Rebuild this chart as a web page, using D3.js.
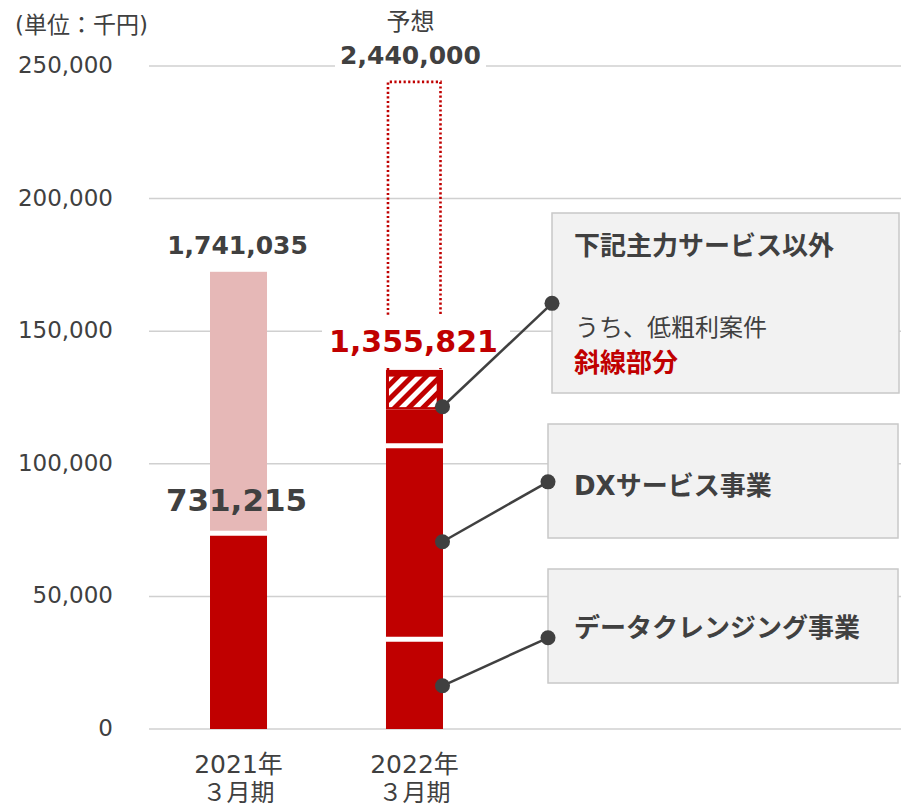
<!DOCTYPE html>
<html>
<head>
<meta charset="utf-8">
<script src="https://cdn.jsdelivr.net/npm/d3@7"></script>
<style>
  body { margin: 0; background: #fff; }
  svg { display: block; }
  text { font-family: "DejaVu Sans", "Noto Sans CJK JP", sans-serif; fill: #404040; }
</style>
</head>
<body>
<div id="chart"></div>
<script>
// values in 千円 as drawn on the axis
const periods = ["2021", "2022"];
const periodYear = ["2021年", "2022年"];
const periodMonth = ["３月期", "３月期"];
const segments2021 = [73800, 98600];               // 実績 / 薄色部分
const segments2022 = [33800, 73000, 13700, 14900]; // クレンジング / DX / 以外 / 低粗利
const forecast2022 = 244000;
const yTicks = [0, 50000, 100000, 150000, 200000, 250000];
const totalLabels = ["1,741,035", "1,355,821"];
const lowerLabel2021 = "731,215";
const forecastLabel = "2,440,000";
const calloutTitles = ["下記主力サービス以外", "DXサービス事業", "データクレンジング事業"];
const calloutBarValues = [121500, 70600, 16300];
const calloutBoxValues = [160500, 93200, 34400];

const RED = "#c00000", PINK = "#e6b8b7", INK = "#404040";
const W = 901, H = 807;

const svg = d3.select("#chart").append("svg").attr("width", W).attr("height", H);
const defs = svg.append("defs");
const pat = defs.append("pattern").attr("id", "hatch")
  .attr("patternUnits", "userSpaceOnUse").attr("width", 10).attr("height", 10)
  .attr("patternTransform", "rotate(45)");
pat.append("rect").attr("width", 10).attr("height", 10).attr("fill", RED);
pat.append("rect").attr("width", 5).attr("height", 10).attr("fill", "#fff");

const x = d3.scaleBand().domain(periods).range([150, 503])
  .paddingInner(0.676).paddingOuter(0.341);
const y = d3.scaleLinear().domain([0, 250000]).range([729, 66]);
const bw = x.bandwidth();

// grid + y labels
svg.append("g").selectAll("line").data(yTicks).join("line")
  .attr("x1", 149).attr("x2", W)
  .attr("y1", d => y(d)).attr("y2", d => y(d))
  .attr("stroke", "#d0d0d0").attr("stroke-width", 1.5);
svg.append("g").selectAll("text").data(yTicks).join("text")
  .attr("x", 113).attr("y", d => y(d) - 1)
  .attr("text-anchor", "end").attr("dominant-baseline", "central")
  .attr("font-size", 23).text(d3.format(","));
svg.append("text").attr("x", 15).attr("y", 25).attr("dominant-baseline", "central")
  .attr("font-size", 23).text("(単位：千円)");

// 2021 bar
const cum21 = [0, ...d3.cumsum(segments2021)];
const x21 = x("2021");
svg.append("g").selectAll("rect").data(segments2021).join("rect")
  .attr("x", x21).attr("width", bw)
  .attr("y", (d, i) => y(cum21[i + 1]))
  .attr("height", (d, i) => y(cum21[i]) - y(cum21[i + 1]))
  .attr("fill", (d, i) => i === 0 ? RED : PINK);
svg.append("line").attr("x1", x21).attr("x2", x21 + bw)
  .attr("y1", y(cum21[1])).attr("y2", y(cum21[1]))
  .attr("stroke", "#fff").attr("stroke-width", 5);

// 2022 forecast outline (dotted)
const x22 = x("2022");
const cum22 = [0, ...d3.cumsum(segments2022)];
const top22 = cum22[cum22.length - 1];
svg.append("path")
  .attr("d", `M${x22 + 2},${y(top22)}V${y(forecast2022)}H${x22 + bw - 2.5}V${y(top22)}`)
  .attr("fill", "none").attr("stroke", RED).attr("stroke-width", 2.6)
  .attr("stroke-dasharray", "2.2,2.4");

// 2022 bar
svg.append("g").selectAll("rect").data(segments2022).join("rect")
  .attr("x", x22).attr("width", bw)
  .attr("y", (d, i) => y(cum22[i + 1]))
  .attr("height", (d, i) => y(cum22[i]) - y(cum22[i + 1]))
  .attr("fill", RED);
const hTop = y(cum22[4]), hBot = y(cum22[3]);
svg.append("rect").attr("x", x22 + 3).attr("width", bw - 9.3)
  .attr("y", hTop + 6.7).attr("height", hBot - hTop - 9)
  .attr("fill", "url(#hatch)");
svg.append("g").selectAll("line").data([cum22[1], cum22[2]]).join("line")
  .attr("x1", x22).attr("x2", x22 + bw)
  .attr("y1", d => y(d)).attr("y2", d => y(d))
  .attr("stroke", "#fff").attr("stroke-width", 5);

// value labels
const cx21 = x21 + bw / 2, cx22 = x22 + bw / 2;
svg.append("text").attr("x", cx21 - 1).attr("y", 245).attr("text-anchor", "middle")
  .attr("dominant-baseline", "central").attr("font-size", 25).attr("font-weight", 700)
  .text(totalLabels[0]);
svg.append("text").attr("x", cx21 - 2).attr("y", 500).attr("text-anchor", "middle")
  .attr("dominant-baseline", "central").attr("font-size", 31).attr("font-weight", 700)
  .text(lowerLabel2021);

svg.append("rect").attr("x", 322).attr("y", 315).attr("width", 188).attr("height", 53).attr("fill", "#fff");
svg.append("text").attr("x", cx22 - 1).attr("y", 341).attr("text-anchor", "middle")
  .attr("dominant-baseline", "central").attr("font-size", 30).attr("font-weight", 700)
  .style("fill", RED).text(totalLabels[1]);

svg.append("rect").attr("x", 335).attr("y", 40).attr("width", 151).attr("height", 32).attr("fill", "#fff");
svg.append("text").attr("x", cx22 - 4).attr("y", 55).attr("text-anchor", "middle")
  .attr("dominant-baseline", "central").attr("font-size", 25).attr("font-weight", 700)
  .text(forecastLabel);
svg.append("text").attr("x", cx22 - 4).attr("y", 22).attr("text-anchor", "middle")
  .attr("dominant-baseline", "central").attr("font-size", 24).text("予想");

// x labels
const xl = svg.append("g").selectAll("g").data(periods).join("g");
xl.append("text").attr("x", d => x(d) + bw / 2).attr("y", 764)
  .attr("text-anchor", "middle").attr("dominant-baseline", "central")
  .attr("font-size", 25).text((d, i) => periodYear[i]);
xl.append("text").attr("x", d => x(d) + bw / 2).attr("y", 793)
  .attr("text-anchor", "middle").attr("dominant-baseline", "central")
  .attr("font-size", 24).text((d, i) => periodMonth[i]);

// callout boxes
const boxes = [
  { x: 552, y: 213, w: 347, h: 180, ty: 246 },
  { x: 548, y: 424, w: 350, h: 114, ty: 486 },
  { x: 548, y: 569, w: 350, h: 114, ty: 627.5 },
];
const bx = svg.append("g").selectAll("g").data(boxes).join("g");
bx.append("rect").attr("x", d => d.x).attr("y", d => d.y)
  .attr("width", d => d.w).attr("height", d => d.h)
  .attr("fill", "#f2f2f2").attr("stroke", "#c8c8c8").attr("stroke-width", 1.5);
bx.append("text").attr("x", 574).attr("y", d => d.ty)
  .attr("dominant-baseline", "central").attr("font-size", 26).attr("font-weight", 700)
  .text((d, i) => calloutTitles[i]);
svg.append("text").attr("x", 575).attr("y", 328).attr("dominant-baseline", "central")
  .attr("font-size", 24).text("うち、低粗利案件");
svg.append("text").attr("x", 574).attr("y", 362.5).attr("dominant-baseline", "central")
  .attr("font-size", 26).attr("font-weight", 700).style("fill", RED).text("斜線部分");

// connectors
const cons = calloutBarValues.map((v, i) => ({
  x1: x22 + bw - 0.5, y1: y(v), x2: boxes[i].x, y2: y(calloutBoxValues[i]),
}));
const cg = svg.append("g").selectAll("g").data(cons).join("g");
cg.append("line").attr("x1", d => d.x1).attr("y1", d => d.y1)
  .attr("x2", d => d.x2).attr("y2", d => d.y2)
  .attr("stroke", INK).attr("stroke-width", 2.5);
cg.append("circle").attr("cx", d => d.x1).attr("cy", d => d.y1).attr("r", 7.5).attr("fill", INK);
cg.append("circle").attr("cx", d => d.x2).attr("cy", d => d.y2).attr("r", 7.5).attr("fill", INK);
</script>
</body>
</html>
